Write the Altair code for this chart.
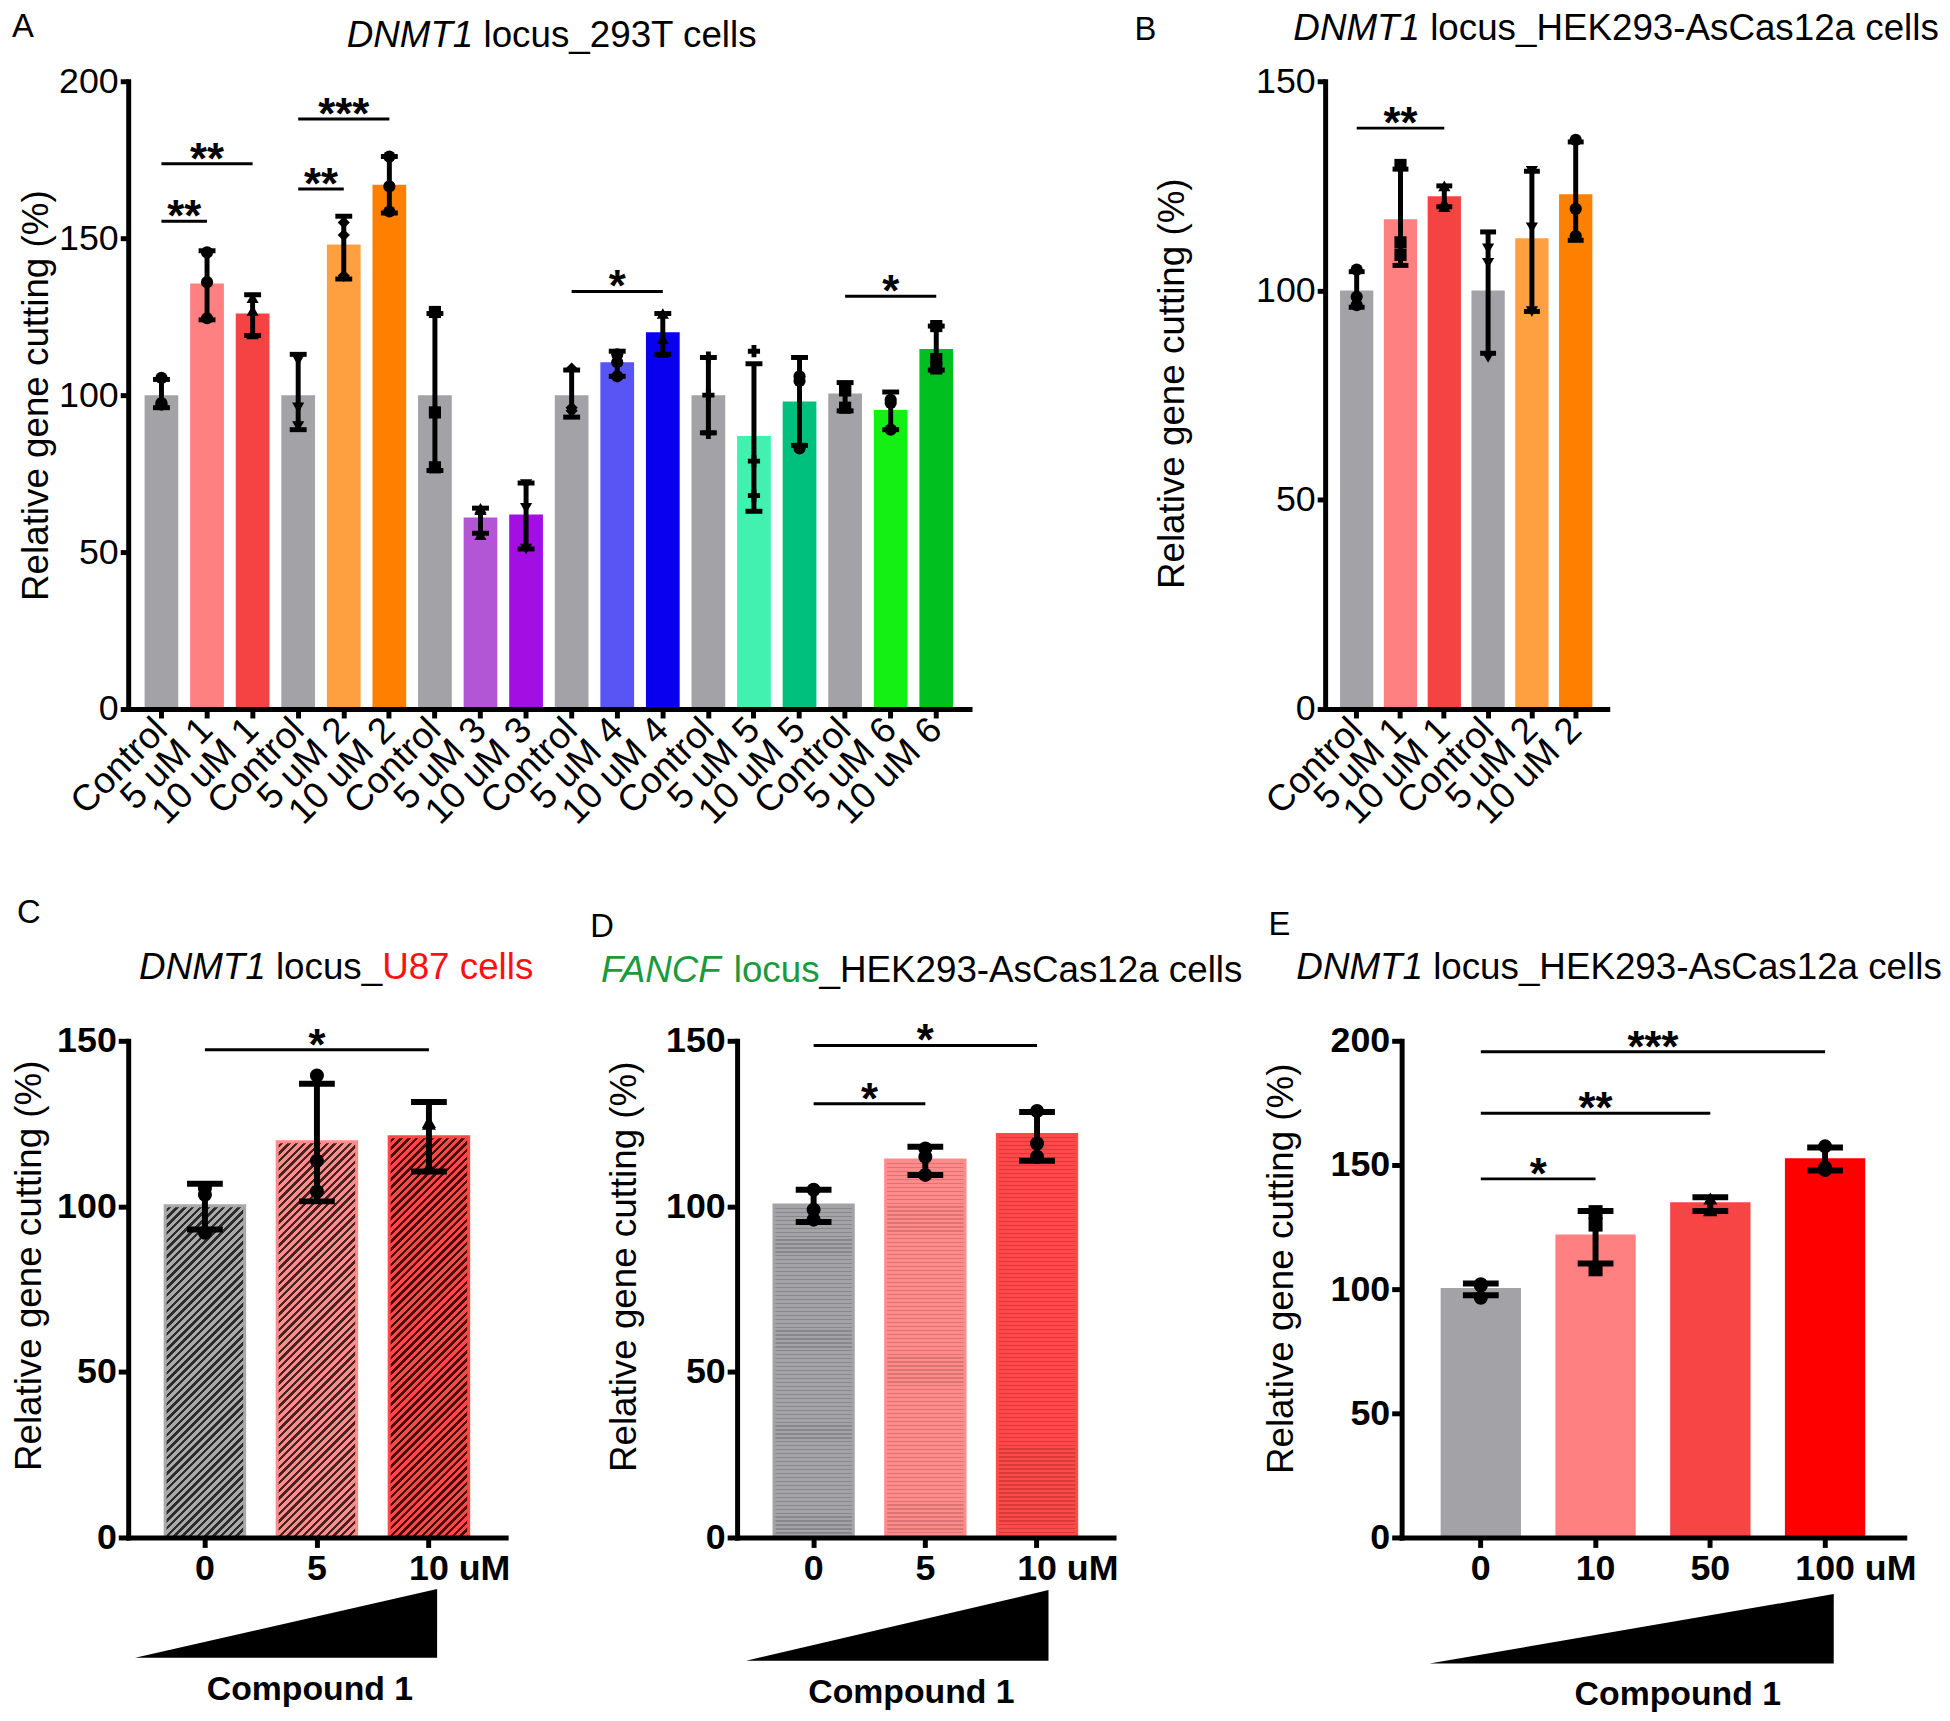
import math
import altair as alt
import pandas as pd

FONT = "Liberation Sans, Arial, Helvetica, sans-serif"

# ======================= DATA =======================
# Panel A : DNMT1 locus_293T cells
A_labels = ["Control", "5 uM 1", "10 uM 1", "Control", "5 uM 2", "10 uM 2",
            "Control", "5 uM 3", "10 uM 3", "Control", "5 uM 4", "10 uM 4",
            "Control", "5 uM 5", "10 uM 5", "Control", "5 uM 6", "10 uM 6"]
A_means = [100, 135.6, 126, 100, 148, 167, 100, 61, 62, 100, 110.5, 120,
           100, 87, 98, 100.5, 95.3, 114.7]
A_lo = [96, 124, 119, 89, 137, 158, 76, 56, 51, 93, 106, 113, 88, 63, 84, 95, 89, 108]
A_hi = [105, 146, 132, 113, 157, 176, 126, 64, 72, 108, 114, 126, 112, 110, 112, 104, 101, 122]
A_points = [[105.5, 97, 97.5], [145.5, 136, 124.5], [131, 127, 119.5], [111, 96, 90],
            [155, 151, 138], [176, 166.5, 158.5], [126.5, 94.5, 77], [64, 63.5, 55.5],
            [71.5, 64, 51], [108.5, 96, 95], [113, 110.5, 106], [126, 118, 113.5],
            [112, 100, 88], [114, 79, 68], [106, 104.5, 83], [102.5, 101.5, 96],
            [98.5, 97.5, 89], [122, 111.5, 108.5]]
A_colors = ["#a3a2a7", "#ff8080", "#f54242", "#a3a2a7", "#ffa040", "#ff8000",
            "#a3a2a7", "#b356d6", "#a30ee3", "#a3a2a7", "#5955f5", "#0a00f0",
            "#a3a2a7", "#42f0b0", "#00c07e", "#a3a2a7", "#14f014", "#00c020"]
A_shapes = ["circle", "circle", "triangle-up", "triangle-down", "diamond", "circle",
            "square", "triangle-up", "triangle-down", "diamond", "circle", "triangle-up",
            "cross", "cross", "circle", "square", "circle", "square"]
A_sig = [(0, 1, 155.4, "**"), (0, 2, 173.7, "**"), (3, 4, 165.7, "**"),
         (3, 5, 188, "***"), (9, 11, 133, "*"), (15, 17, 131.5, "*")]

# Panel B : DNMT1 locus_HEK293-AsCas12a cells
B_labels = ["Control", "5 uM 1", "10 uM 1", "Control", "5 uM 2", "10 uM 2"]
B_means = [100, 117, 122.5, 100, 112.5, 123]
B_lo = [96, 106, 120, 85, 95, 112]
B_hi = [104.5, 129, 125, 114, 128.5, 135.5]
B_points = [[105, 98.5, 96.5], [130, 111.5, 108.5], [125, 121, 120],
            [110, 106.5, 84], [128.5, 115, 95], [136, 119.5, 113]]
B_colors = ["#a3a2a7", "#ff8080", "#f54242", "#a3a2a7", "#ffa040", "#ff8000"]
B_shapes = ["circle", "square", "triangle-up", "triangle-down", "triangle-down", "circle"]
B_sig = [(0, 2, 138.8, "**")]

# Panel C : DNMT1 locus_U87 cells
C_labels = ["0", "5", "10 uM"]
C_means = [100.2, 119.5, 121]
C_lo = [93, 101.5, 110.5]
C_hi = [106.8, 137, 131.5]
C_points = [[105.5, 103.5, 92], [139.5, 113.8, 104.5], [125.5, 125, 112]]
C_colors = ["#a9a9a9", "#ff8c8c", "#ff4848"]
C_stripes = ["#2c2c2c", "#4a2222", "#4a0a0a"]
C_shapes = ["circle", "circle", "triangle-up"]
C_sig = [(0, 2, 147.3, "*")]
C_dose = [0, 10]

# Panel D : FANCF locus_HEK293-AsCas12a cells
D_labels = ["0", "5", "10 uM"]
D_means = [100.4, 114, 121.7]
D_lo = [95.3, 109.5, 113.8]
D_hi = [105, 118, 128.5]
D_points = [[105, 99, 96], [117.5, 115, 109.5], [128.8, 119, 115]]
D_colors = ["#a4a4a7", "#ff8a8a", "#ff4a4a"]
D_dots = ["#88888c", "#dc7474", "#d83a3a"]
D_shapes = ["circle", "circle", "circle"]
D_sig = [(0, 1, 131, "*"), (0, 2, 148.6, "*")]
D_dose = [0, 10]

# Panel E : DNMT1 locus_HEK293-AsCas12a cells (dose series)
E_labels = ["0", "10", "50", "100 uM"]
E_means = [100.5, 122, 135, 152.7]
E_lo = [97.5, 110.3, 131.5, 147.8]
E_hi = [102.3, 131.5, 137, 157]
E_points = [[102, 101.5, 96.5], [131, 126, 108], [136.5, 132, 131.8], [157.5, 149, 148]]
E_colors = ["#a3a2a7", "#ff8080", "#f74444", "#ff0000"]
E_shapes = ["circle", "square", "triangle-up", "circle"]
E_sig = [(0, 1, 144.4, "*"), (0, 2, 170.8, "**"), (0, 3, 195.6, "***")]
E_dose = [0, 100]

YTITLE = "Relative gene cutting (%)"
GREEN = "#1a9a3c"
RED = "#ff1010"

A_title = [("DNMT1", "italic", "black"), (" locus_293T cells", "normal", "black")]
B_title = [("DNMT1", "italic", "black"), (" locus_HEK293-AsCas12a cells", "normal", "black")]
C_title = [("DNMT1", "italic", "black"), (" locus_", "normal", "black"), ("U87 cells", "normal", RED)]
D_title = [("FANCF", "italic", GREEN), (" locus", "normal", GREEN), ("_HEK293-AsCas12a cells", "normal", "black")]
E_title = [("DNMT1", "italic", "black"), (" locus_HEK293-AsCas12a cells", "normal", "black")]

# ======================= HELPERS =======================
W_ARIAL = {' ': .278, '_': .556, '-': .333, 'a': .556, 'c': .5, 'e': .556, 'l': .222,
           'o': .556, 's': .5, 'u': .556, 'A': .667, 'C': .722, 'D': .722, 'E': .667,
           'F': .611, 'H': .722, 'K': .667, 'M': .833, 'N': .722, 'T': .611, 'U': .722}
for _d in "0123456789":
    W_ARIAL[_d] = .556


def tw(s, size):
    return sum(W_ARIAL.get(ch, .556) for ch in s) * size


def text_layer(txt, x, y, size, color="black", weight="normal", style="normal",
               align="center", baseline="middle", opacity=1):
    return alt.Chart(pd.DataFrame({"t": [txt]})).mark_text(
        align=align, baseline=baseline, fontSize=size, font=FONT, fontWeight=weight,
        fontStyle=style, color=color, opacity=opacity
    ).encode(text="t:N", x=alt.value(x), y=alt.value(y))


def title_layers(pieces, x0, y, size=37):
    out = []
    acc = ""
    for txt, style, color in pieces:
        stripped = txt.lstrip(" ")
        lead = txt[:len(txt) - len(stripped)]
        x = x0 + tw(acc + lead, size)
        out.append(text_layer(stripped, x, y, size, color=color, style=style, align="left"))
        acc += txt
    return out


def stripe_stops(base, dark, n, frac):
    stops = []
    for i in range(n):
        a = i / n
        b = (i + 1 - frac) / n
        c = (i + 1) / n
        stops += [{"offset": round(a, 5), "color": base}, {"offset": round(b, 5), "color": base},
                  {"offset": round(b, 5), "color": dark}, {"offset": round(c, 5), "color": dark}]
    return stops


def hatch_fill(base, dark, w, h, period=5.5, frac=0.45):
    # diagonal "/" hatching, 45 degrees in pixel space
    k = (w + h) / (w * w + h * h)
    n = max(4, int(round((w + h) / math.sqrt(2) / period)))
    return {"gradient": "linear", "x1": 0, "y1": 0, "x2": round(k * w, 5),
            "y2": round(k * h, 5), "stops": stripe_stops(base, dark, n, frac)}


def dot_fill(base, dark, h, period=4.0, frac=0.3):
    # fine horizontal texture (stands in for the dotted pattern)
    n = max(4, int(round(h / period)))
    return {"gradient": "linear", "x1": 0, "y1": 0, "x2": 0, "y2": 1,
            "stops": stripe_stops(base, dark, n, frac)}


def panel(labels, means, lo, hi, points, colors, shapes, sig, c):
    n = len(labels)
    keys = [str(i) for i in range(n)]
    xr = c["xr"]
    H = c["H"]
    step = xr / (n - c["pi"] + 2 * c["po"])
    bw = step * (1 - c["pi"])
    xscale = alt.Scale(domain=keys, range=[0, xr], paddingInner=c["pi"],
                       paddingOuter=c["po"], align=0.5)
    label_js = "[" + ",".join("'%s'" % l for l in labels) + "][toNumber(datum.value)]"
    weight = "bold" if c["bold"] else "normal"
    ax = dict(title=None, labelExpr=label_js, labelFontSize=c["xfs"], labelFont=FONT,
              labelFontWeight=weight, labelColor="black", labelOverlap=False, labelLimit=0,
              tickSize=c["xts"], tickWidth=5, tickColor="black", domainWidth=5,
              domainColor="black", domainCap="square", grid=False, zindex=1)
    if c["rot"]:
        ax.update(labelAngle=315, labelAlign="right", labelBaseline="middle", labelPadding=6)
    else:
        last = labels[-1]
        off = -tw(last.split(" ")[0], c["xfs"]) / 2
        test = "datum.value == '%s'" % keys[-1]
        ax.update(labelAngle=0, labelBaseline="top", labelPadding=4,
                  labelAlign={"condition": {"test": test, "value": "left"}, "value": "center"},
                  labelOffset={"condition": {"test": test, "value": off}, "value": 0})
    xaxis = alt.Axis(**ax)
    yaxis = alt.Axis(values=c["yvals"], title=YTITLE, titleFontSize=37, titleFont=FONT,
                     titleFontWeight="normal", titleColor="black", titleX=c["ytx"],
                     titleY=c["yty"], titleAngle=270, titleAlign="center",
                     titleBaseline="middle", labelFontSize=c["yfs"], labelFont=FONT,
                     labelFontWeight=weight, labelColor="black", labelPadding=2,
                     tickSize=c["yts"], tickWidth=5, tickColor="black", domainWidth=5,
                     domainColor="black", domainCap="square", grid=False, zindex=1)
    yscale = alt.Scale(domain=[0, c["ymax"]], nice=False, zero=True)

    def X(f):
        return alt.X(f"{f}:N", scale=xscale, axis=xaxis)

    def Y(f):
        return alt.Y(f"{f}:Q", scale=yscale, axis=yaxis)

    bdf = pd.DataFrame({"k": keys, "mean": means, "lo": lo, "hi": hi, "color": colors})
    layers = []
    if c.get("stripes") or c.get("dots"):
        for i in range(n):
            h_px = means[i] / c["ymax"] * H
            if c.get("stripes"):
                fill = hatch_fill(colors[i], c["stripes"][i], bw, h_px)
            else:
                fill = dot_fill(colors[i], c["dots"][i], h_px)
            layers.append(
                alt.Chart(bdf).transform_filter(alt.datum.k == keys[i]).mark_bar(
                    fill=fill, stroke=colors[i], strokeWidth=3
                ).encode(x=X("k"), y=Y("mean"))
            )
    else:
        layers.append(alt.Chart(bdf).mark_bar().encode(
            x=X("k"), y=Y("mean"), color=alt.Color("color:N", scale=None)))
    layers.append(alt.Chart(bdf).mark_rule(strokeWidth=c["ew"], color="black").encode(
        x=X("k"), y=Y("lo"), y2=alt.Y2("hi")))
    for f in ("lo", "hi"):
        layers.append(alt.Chart(bdf).mark_tick(thickness=c["ew"], size=c["cap"], color="black",
                                               opacity=1).encode(x=X("k"), y=Y(f)))
    prows = [(keys[i], v, shapes[i]) for i in range(n) for v in points[i]]
    pdf = pd.DataFrame(prows, columns=["k", "v", "shape"])
    layers.append(alt.Chart(pdf).mark_point(filled=True, size=c["ps"], color="black",
                                            opacity=1).encode(
        x=X("k"), y=Y("v"), shape=alt.Shape("shape:N", scale=None)))
    sdf = pd.DataFrame([(keys[i], keys[j], y, t) for i, j, y, t in sig],
                       columns=["c1", "c2", "y", "t"])
    layers.append(alt.Chart(sdf).mark_rule(strokeWidth=3, color="black").encode(
        x=X("c1"), x2=alt.X2("c2"), y=Y("y")))
    for i, j, y, t in sig:
        layers.append(alt.Chart(pd.DataFrame({"c1": [keys[i]], "y": [y], "t": [t]})).mark_text(
            dx=(j - i) * step / 2, dy=10, baseline="alphabetic", align="center", fontSize=44,
            fontWeight="bold", font=FONT, color="black").encode(x=X("c1"), y=Y("y"), text="t:N"))
    lt, lx, ly = c["letter"]
    layers.append(text_layer(lt, lx, ly, 33))
    tp, tx, ty = c["title"]
    layers += title_layers(tp, tx, ty)
    if c.get("anchor"):
        layers.append(text_layer("A", c["anchor"][0], c["anchor"][1], 33, opacity=0))
    if c.get("compound"):
        cx, cy = c["compound"]
        layers.append(text_layer("Compound 1", cx, cy, 34, weight="bold"))
    main = alt.layer(*layers)
    if c.get("ramp"):
        x0, x1, yb, yt = c["ramp"]
        dose = c["dose"]
        ramp = alt.Chart(pd.DataFrame({"d": dose})).mark_area(color="black", opacity=1).encode(
            x=alt.X("d:Q", scale=alt.Scale(domain=dose, range=[x0, x1], nice=False), axis=None),
            y=alt.Y("d:Q", scale=alt.Scale(domain=dose, range=[yb, yt], nice=False), axis=None))
        out = alt.layer(main, ramp).resolve_scale(x="independent", y="independent")
    else:
        out = main
    return out.properties(width=c["W"], height=H)


common_top = dict(H=632, rot=True, xfs=37, yfs=36, bold=False, xts=9, yts=8, ew=5, ps=150)
common_bot = dict(H=500, rot=False, xfs=36, yfs=36, bold=True, xts=10, yts=10, ew=6, ps=200, cap=36)

A_cfg = dict(common_top, W=847, xr=847, ymax=200, yvals=[0, 50, 100, 150, 200], pi=0.26, po=0.36,
             cap=17, ytx=-92, yty=316, letter=("A", -106, -55), title=(A_title, 220, -45))
B_cfg = dict(common_top, W=284, xr=284, ymax=150, yvals=[0, 50, 100, 150], pi=0.24, po=0.34,
             cap=16, ytx=-154, yty=304, letter=("B", -181, -52), title=(B_title, -32, -53))
C_cfg = dict(common_bot, W=380, xr=380, ymax=150, yvals=[0, 50, 100, 150], pi=0.29, po=0.33,
             ytx=-99, yty=226, letter=("C", -100, -129), title=(C_title, 11, -73),
             compound=(183, 654), ramp=(7, 311, 621, 552), dose=C_dose, stripes=C_stripes,
             anchor=(-109, 250))
D_cfg = dict(common_bot, W=436, xr=379, ymax=150, yvals=[0, 50, 100, 150], pi=0.29, po=0.33,
             ytx=-113, yty=227, letter=("D", -136, -114), title=(D_title, -137, -70.5),
             compound=(175.5, 656.5), ramp=(9, 313.5, 624, 553), dose=D_dose, dots=D_dots)
E_cfg = dict(common_bot, W=506, xr=506, ymax=200, yvals=[0, 50, 100, 150, 200], pi=0.30, po=0.34,
             ytx=-121, yty=229, letter=("E", -123, -117), title=(E_title, -106, -73),
             compound=(278, 659), ramp=(28, 435, 627, 557), dose=E_dose)

pA = panel(A_labels, A_means, A_lo, A_hi, A_points, A_colors, A_shapes, A_sig, A_cfg)
pB = panel(B_labels, B_means, B_lo, B_hi, B_points, B_colors, B_shapes, B_sig, B_cfg)
pC = panel(C_labels, C_means, C_lo, C_hi, C_points, C_colors, C_shapes, C_sig, C_cfg)
pD = panel(D_labels, D_means, D_lo, D_hi, D_points, D_colors, D_shapes, D_sig, D_cfg)
pE = panel(E_labels, E_means, E_lo, E_hi, E_points, E_colors, E_shapes, E_sig, E_cfg)

top = alt.hconcat(pA, pB, spacing=358, bounds="flush")
bottom = alt.hconcat(pC, pD, pE, spacing=233, bounds="flush")

chart = alt.vconcat(top, bottom, spacing=66).properties(
    padding={"left": 0, "top": -4, "right": 0, "bottom": 0}, background="white"
)
chart = chart.configure(font=FONT).configure_view(stroke=None)

chart.save("out.html", embed_options={"renderer": "svg", "actions": False})
